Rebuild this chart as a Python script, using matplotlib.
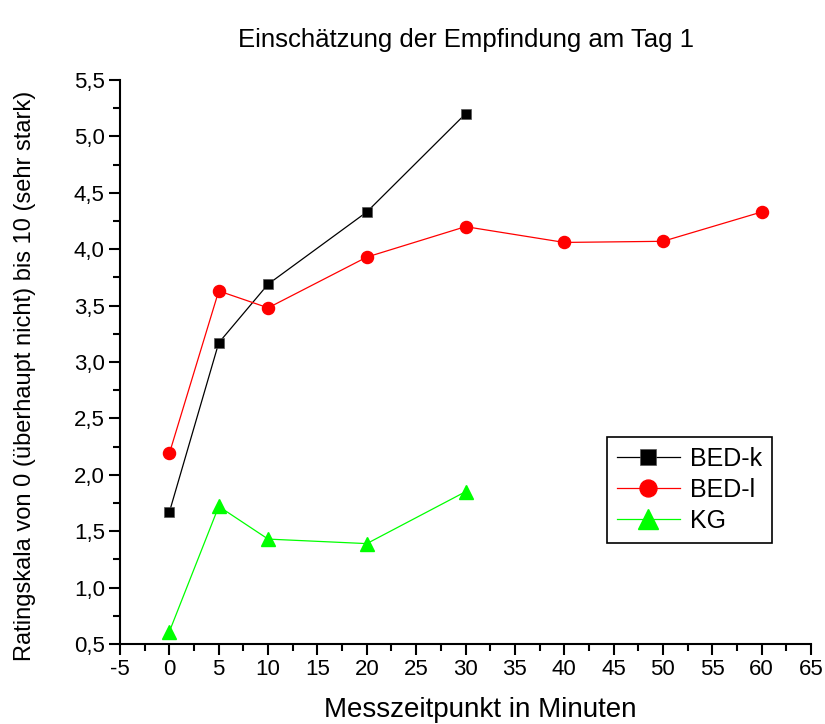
import matplotlib
matplotlib.use("Agg")
import matplotlib.pyplot as plt
from matplotlib.ticker import MultipleLocator, FuncFormatter

plt.rcParams['font.family'] = ['Liberation Sans', 'DejaVu Sans']
plt.rcParams['axes.unicode_minus'] = False

x_k = [0, 5, 10, 20, 30]
bed_k = [1.67, 3.17, 3.69, 4.33, 5.20]

x_l = [0, 5, 10, 20, 30, 40, 50, 60]
bed_l = [2.19, 3.63, 3.48, 3.93, 4.20, 4.06, 4.07, 4.33]

x_kg = [0, 5, 10, 20, 30]
kg = [0.61, 1.72, 1.43, 1.39, 1.85]

fig = plt.figure(figsize=(8.25, 7.24), dpi=100)
ax = fig.add_axes([0.1455, 0.1105, 0.8375, 0.779])

ax.plot(x_k, bed_k, color="black", lw=0.9, marker="s", ms=7.8, mec="#555555", mew=0.5, label="BED-k")
ax.plot(x_l, bed_l, color="red", lw=0.9, marker="o", ms=8.7, label="BED-l")
ax.plot(x_kg, kg, color="#00ff00", lw=0.9, marker="^", ms=10, label="KG")

ax.set_xlim(-5, 65)
ax.set_ylim(0.5, 5.5)
ax.xaxis.set_major_locator(MultipleLocator(5))
ax.xaxis.set_minor_locator(MultipleLocator(2.5))
ax.yaxis.set_major_locator(MultipleLocator(0.5))
ax.yaxis.set_minor_locator(MultipleLocator(0.25))
ax.yaxis.set_major_formatter(FuncFormatter(lambda v, p: ("%.1f" % v).replace(".", ",")))

for s in ["top", "right"]:
    ax.spines[s].set_visible(False)
for s in ["left", "bottom"]:
    ax.spines[s].set_linewidth(1.5)
ax.tick_params(which="major", direction="out", length=8, width=1.5, labelsize=16, pad=3)
ax.tick_params(which="minor", direction="out", length=5, width=1.5)

ax.set_xlabel("Messzeitpunkt in Minuten", fontsize=20, labelpad=12)
ax.xaxis.label.set_x(0.521)
ax.set_ylabel("Ratingskala von 0 (überhaupt nicht) bis 10 (sehr stark)", fontsize=17, labelpad=27)
ax.yaxis.label.set_y(0.475)
ax.set_title("Einschätzung der Empfindung am Tag 1", fontsize=18.5, pad=24)

leg = ax.legend(loc="upper left", bbox_to_anchor=(0.705, 0.367), borderaxespad=0, fontsize=18,
                handlelength=2.5, fancybox=False, framealpha=1, borderpad=0.4,
                labelspacing=0.27, handletextpad=0.4, markerscale=1.4)
leg.get_frame().set_edgecolor("black")
leg.get_frame().set_linewidth(1.2)

fig.savefig("out.png", dpi=100)
